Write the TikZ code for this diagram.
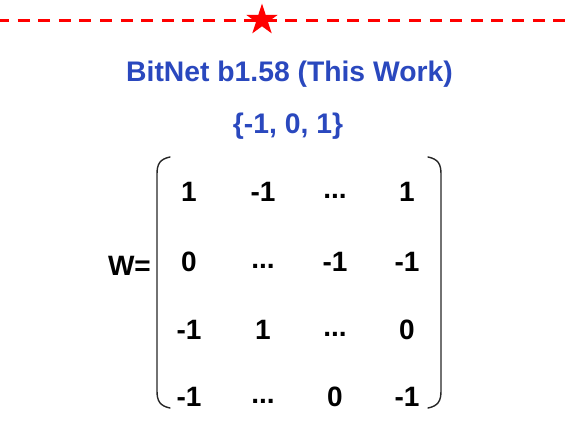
\documentclass[tikz,border=0pt]{standalone}
\usepackage{fontspec}
\setmainfont{Liberation Sans}
\usetikzlibrary{shapes.geometric}
\definecolor{titleblue}{RGB}{42,72,190}
\definecolor{starred}{RGB}{255,0,0}
\begin{document}
\begin{tikzpicture}[x=1pt,y=-1pt,
  title/.style={font=\fontsize{28.3}{33}\selectfont\bfseries, text=titleblue, inner sep=0pt},
  entry/.style={font=\fontsize{28}{32}\selectfont\bfseries, text=black, inner sep=0pt},
  paren/.style={draw=black!85, line width=1.4pt, line cap=round},
  sepline/.style={draw=starred, line width=3pt, dash pattern=on 12pt off 8.6pt, dash phase=3pt},
  starmark/.style={star, star points=5, star point ratio=2.618, fill=starred, draw=none, minimum size=33pt, inner sep=0pt}]
\useasboundingbox (0,0) rectangle (568,426);
% separator
\coordinate (lineL) at (0,20);
\coordinate (lineR) at (568,20);
\draw[sepline] (lineL) -- (lineR);
\node[starmark] (starA) at (262,20) {};
% titles
\node[title] (ttl) at (289.5,74) {BitNet b1.58 (This Work)};
\node[title] (vals) at (288,126) {\{-1, 0, 1\}};
% label
\node[entry, anchor=east] (weq) at (151,266) {W=};
% matrix entries
\node[entry] (m11) at (189,192) {1};
\node[entry] (m12) at (263,192) {-1};
\node[entry] (m13) at (335,196) {...};
\node[entry] (m14) at (407,192) {1};
\node[entry] (m21) at (189,262) {0};
\node[entry] (m22) at (263,266) {...};
\node[entry] (m23) at (335,262) {-1};
\node[entry] (m24) at (407,262) {-1};
\node[entry] (m31) at (189,330) {-1};
\node[entry] (m32) at (263,330) {1};
\node[entry] (m33) at (335,334) {...};
\node[entry] (m34) at (407,330) {0};
\node[entry] (m41) at (189,397) {-1};
\node[entry] (m42) at (263,401) {...};
\node[entry] (m43) at (335,397) {0};
\node[entry] (m44) at (407,397) {-1};
% parentheses
\draw[paren] (170,157) .. controls (160,159) and (157,164) .. (157,174) -- (157,391) .. controls (157,401) and (160,406) .. (170,408);
\draw[paren] (428,157) .. controls (438,159) and (441,164) .. (441,174) -- (441,391) .. controls (441,401) and (438,406) .. (428,408);
\end{tikzpicture}
\end{document}
